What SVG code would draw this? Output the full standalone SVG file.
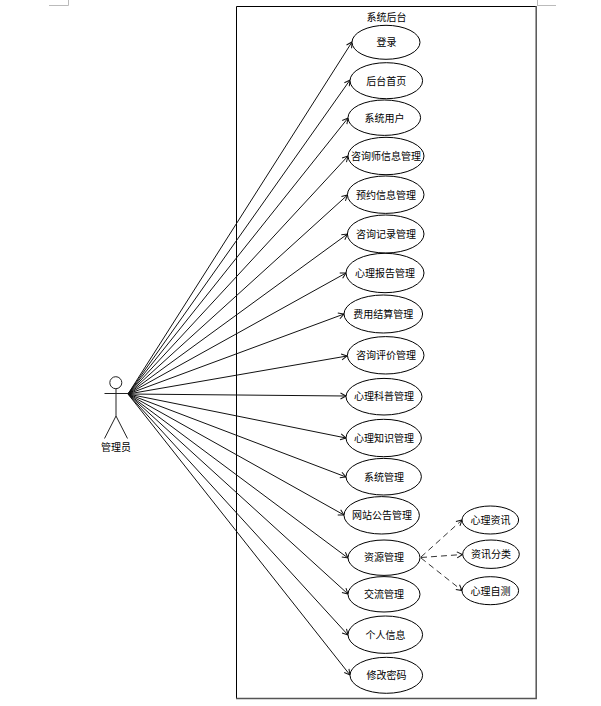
<svg xmlns="http://www.w3.org/2000/svg" width="601" height="706" viewBox="0 0 601 706">
<style>
.u{fill:#fff;stroke:#000;stroke-width:1}
.c{fill:none;stroke:#111;stroke-width:1;marker-end:url(#a)}
.d{fill:none;stroke:#333;stroke-width:1;stroke-dasharray:6 4;marker-end:url(#a)}
.s{fill:none;stroke:#222;stroke-width:1}
.m{fill:none;stroke:#bbb;stroke-width:1}
text{font-family:"Noto Sans CJK SC","DejaVu Sans",sans-serif;font-size:10px;fill:#000;text-anchor:middle}
</style>
<defs>
<marker id="a" markerUnits="userSpaceOnUse" markerWidth="10" markerHeight="10" refX="7" refY="5" orient="auto" overflow="visible">
<path d="M1.5 2 L7 5 L1.5 8" fill="none" stroke="#111" stroke-width="1"/>
</marker>
</defs>
<rect width="601" height="706" fill="#fff"/>
<g id="page-marks">
<path class="m" d="M49 5.5H68.500V0M537 5.500H556M537.500 0V5"/>
</g>
<g id="boundary">
<path fill="none" stroke="#000" stroke-width="1" d="M236.500 698V6.500H536"/>
<path fill="none" stroke="#555" stroke-width="1.500" d="M536.200 6V698.500H236"/>
<text x="386.500" y="20.500">系统后台</text>
</g>
<g id="connectors">
<path class="c" d="M128 394L352 42"/>
<path class="c" d="M128 394L350 80"/>
<path class="c" d="M128 394L348 118"/>
<path class="c" d="M128 394L348 156"/>
<path class="c" d="M128 394L347.500 195"/>
<path class="c" d="M128 394L347.500 234"/>
<path class="c" d="M128 394L346 273"/>
<path class="c" d="M128 394L344 314"/>
<path class="c" d="M128 394L347 356"/>
<path class="c" d="M128 394L346 396"/>
<path class="c" d="M128 394L346 438"/>
<path class="c" d="M128 394L346 477"/>
<path class="c" d="M128 394L344 515"/>
<path class="c" d="M128 394L348 558"/>
<path class="c" d="M128 394L348 594"/>
<path class="c" d="M128 394L348 635"/>
<path class="c" d="M128 394L350 675"/>
<path class="d" d="M421 557L462 520"/>
<path class="d" d="M421 557.500L462.500 554.500"/>
<path class="d" d="M421 558L462 590.500"/>
</g>
<g id="actor">
<circle class="s" cx="115.800" cy="382.700" r="6"/>
<path class="s" d="M116 388.700V416M104.500 393.500H128M116 416L104.500 438.500M116 416L127.500 438.500"/>
<text x="116" y="451">管理员</text>
</g>
<g id="n1"><ellipse class="u" cx="386" cy="42.300" rx="34" ry="17"/><text x="386.500" y="46">登录</text></g>
<g id="n2"><ellipse class="u" cx="386.300" cy="80.700" rx="36.300" ry="18"/><text x="386.300" y="84.500">后台首页</text></g>
<g id="n3"><ellipse class="u" cx="384.300" cy="117.700" rx="36.300" ry="17.700"/><text x="384.500" y="121.500">系统用户</text></g>
<g id="n4"><ellipse class="u" cx="386" cy="156" rx="38" ry="18.700"/><text x="386" y="159.500">咨询师信息管理</text></g>
<g id="n5"><ellipse class="u" cx="385.700" cy="194.700" rx="38.300" ry="18.700"/><text x="386" y="198.500">预约信息管理</text></g>
<g id="n6"><ellipse class="u" cx="385.700" cy="234" rx="38.300" ry="19"/><text x="386" y="237.500">咨询记录管理</text></g>
<g id="n7"><ellipse class="u" cx="385" cy="273" rx="39" ry="19.700"/><text x="385" y="276.500">心理报告管理</text></g>
<g id="n8"><ellipse class="u" cx="383.300" cy="314" rx="39.300" ry="19"/><text x="383.300" y="318">费用结算管理</text></g>
<g id="n9"><ellipse class="u" cx="385.700" cy="355.300" rx="38.300" ry="18.700"/><text x="386" y="359">咨询评价管理</text></g>
<g id="n10"><ellipse class="u" cx="384" cy="396.700" rx="38" ry="18.300"/><text x="384" y="400">心理科普管理</text></g>
<g id="n11"><ellipse class="u" cx="383.700" cy="438" rx="37.700" ry="18.700"/><text x="384" y="441.500">心理知识管理</text></g>
<g id="n12"><ellipse class="u" cx="383.700" cy="476.700" rx="37.700" ry="18.300"/><text x="384" y="480.500">系统管理</text></g>
<g id="n13"><ellipse class="u" cx="381.700" cy="515.300" rx="37.700" ry="18.700"/><text x="382" y="519">网站公告管理</text></g>
<g id="n14"><ellipse class="u" cx="384" cy="557.700" rx="36" ry="17.700"/><text x="384" y="561">资源管理</text></g>
<g id="n15"><ellipse class="u" cx="384" cy="594.300" rx="36" ry="17.700"/><text x="384" y="598">交流管理</text></g>
<g id="n16"><ellipse class="u" cx="385.300" cy="634.700" rx="37.300" ry="18.700"/><text x="385.500" y="638.500">个人信息</text></g>
<g id="n17"><ellipse class="u" cx="386.300" cy="675.300" rx="36.300" ry="18"/><text x="386.500" y="679">修改密码</text></g>
<g id="n18"><ellipse class="u" cx="490.300" cy="520" rx="28.300" ry="14"/><text x="490.500" y="524">心理资讯</text></g>
<g id="n19"><ellipse class="u" cx="491" cy="554.200" rx="28.300" ry="14.200"/><text x="491" y="558">资讯分类</text></g>
<g id="n20"><ellipse class="u" cx="490.300" cy="590.700" rx="28.300" ry="14"/><text x="490.500" y="594.500">心理自测</text></g>
</svg>
